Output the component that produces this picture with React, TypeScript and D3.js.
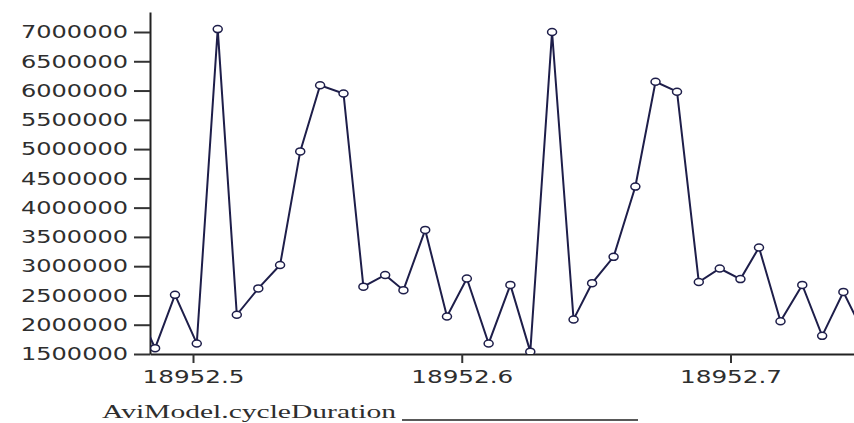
import React, { useEffect, useRef } from 'react';
import * as d3 from 'd3';

// cycle times (x) and durations (y)
const xValues = [
  18952.4777, 18952.4859, 18952.4933, 18952.5014, 18952.5092, 18952.5163,
  18952.5243, 18952.5324, 18952.5399, 18952.5473, 18952.5560, 18952.5634,
  18952.5715, 18952.5783, 18952.5864, 18952.5945, 18952.6019, 18952.6100,
  18952.6181, 18952.6255, 18952.6336, 18952.6416, 18952.6485, 18952.6565,
  18952.6646, 18952.6721, 18952.6801, 18952.6882, 18952.6960, 18952.7037,
  18952.7106, 18952.7186, 18952.7267, 18952.7341, 18952.7420, 18952.7497,
];
const yValues = [
  2420000, 1600000, 2510000, 1680000, 7050000, 2170000,
  2620000, 3020000, 4960000, 6090000, 5950000, 2650000,
  2850000, 2590000, 3620000, 2140000, 2790000, 1680000,
  2680000, 1540000, 7000000, 2090000, 2710000, 3160000,
  4360000, 6150000, 5980000, 2730000, 2960000, 2780000,
  3320000, 2060000, 2680000, 1810000, 2560000, 1840000,
];
const yTicks = [1500000, 2000000, 2500000, 3000000, 3500000, 4000000, 4500000, 5000000, 5500000, 6000000, 6500000, 7000000];
const xTicks = [18952.5, 18952.6, 18952.7];
const axisTitle = 'AviModel.cycleDuration';

const W = 854, H = 423;
const left = 150, bottom = 354, top = 12;
const ink = '#1e1e4a';
const txt = '#2e2e2e';

export default function App() {
  const ref = useRef<SVGSVGElement>(null);

  useEffect(() => {
    const svg = d3.select(ref.current);
    svg.selectAll('*').remove();

    const x = d3.scaleLinear().domain([18952.484, 18952.74595]).range([left, W]);
    const y = d3.scaleLinear().domain([1500000, 7341600]).range([bottom, top]);

    svg.append('defs').append('clipPath').attr('id', 'plot')
      .append('rect').attr('x', left).attr('y', 0).attr('width', W - left).attr('height', bottom);

    // y axis
    const ya = svg.append('g').attr('transform', `translate(${left},0)`)
      .call(d3.axisLeft(y).tickValues(yTicks).tickSize(16).tickPadding(6).tickSizeOuter(0).tickFormat(d3.format('d')));
    ya.select('.domain').attr('stroke', '#222').attr('stroke-width', 2);
    ya.selectAll('.tick line').attr('stroke', '#333').attr('stroke-width', 2);
    ya.selectAll('.tick text')
      .attr('font-family', 'DejaVu Sans, sans-serif').attr('font-size', 18).attr('fill', txt)
      .attr('textLength', 107).attr('lengthAdjust', 'spacingAndGlyphs');

    // x axis
    const xa = svg.append('g').attr('transform', `translate(0,${bottom})`)
      .call(d3.axisBottom(x).tickValues(xTicks).tickSize(9).tickPadding(7).tickSizeOuter(0).tickFormat(d3.format('.1f')));
    xa.select('.domain').attr('stroke', '#222').attr('stroke-width', 2);
    xa.selectAll('.tick line').attr('stroke', '#333').attr('stroke-width', 2);
    xa.selectAll('.tick text')
      .attr('font-family', 'DejaVu Sans, sans-serif').attr('font-size', 18).attr('fill', txt)
      .attr('textLength', 102).attr('lengthAdjust', 'spacingAndGlyphs');

    const data = xValues.map((v, i) => [v, yValues[i]] as [number, number]);
    const g = svg.append('g').attr('clip-path', 'url(#plot)');

    g.append('path')
      .datum(data)
      .attr('fill', 'none')
      .attr('stroke', ink)
      .attr('stroke-width', 2)
      .attr('d', d3.line().x(d => x(d[0])).y(d => y(d[1])));

    g.selectAll('ellipse')
      .data(data)
      .enter().append('ellipse')
      .attr('cx', d => x(d[0]))
      .attr('cy', d => y(d[1]))
      .attr('rx', 4.5)
      .attr('ry', 3.5)
      .attr('fill', 'white')
      .attr('stroke', ink)
      .attr('stroke-width', 1.5);

    // legend-ish title with underline
    svg.append('text')
      .attr('x', 102).attr('y', 418)
      .attr('font-family', 'Liberation Serif, serif').attr('font-size', 18).attr('fill', txt)
      .attr('textLength', 294).attr('lengthAdjust', 'spacingAndGlyphs')
      .text(axisTitle);
    svg.append('line')
      .attr('x1', 402).attr('x2', 638).attr('y1', 420).attr('y2', 420)
      .attr('stroke', '#222').attr('stroke-width', 1.5);
  }, []);

  return (
    <svg ref={ref} width={W} height={H}
      style={{ position: 'absolute', left: 0, top: 0, background: 'white' }} />
  );
}
